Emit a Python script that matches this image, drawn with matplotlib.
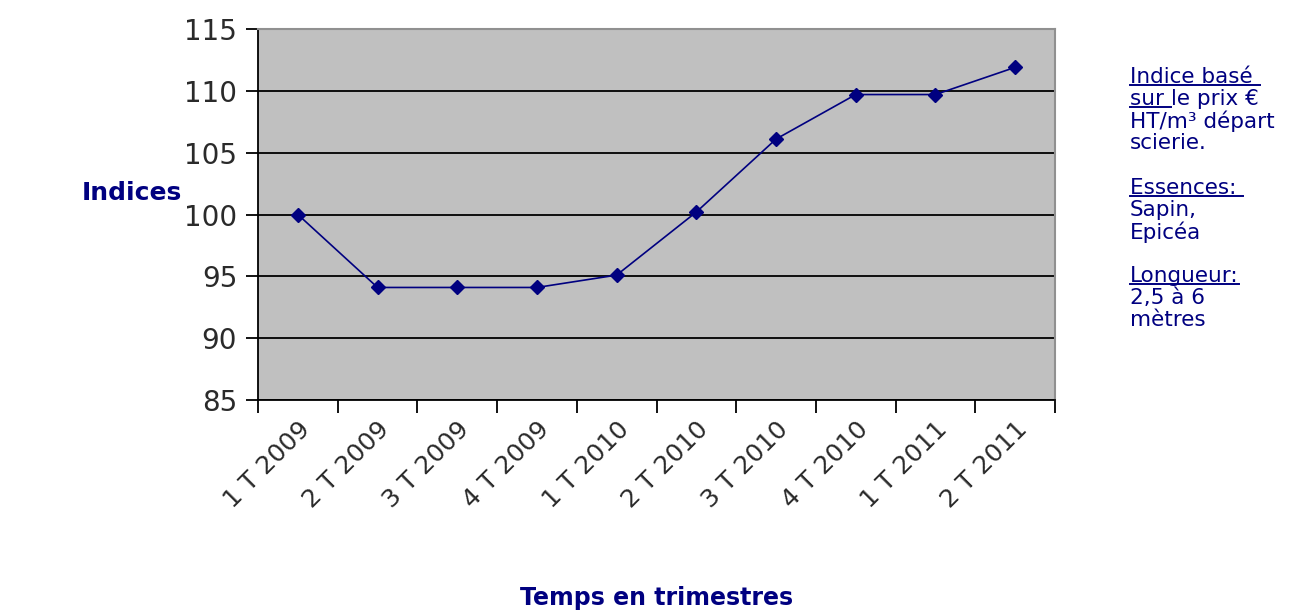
import numpy as np
import matplotlib
matplotlib.use("Agg")
from matplotlib import pyplot as plt

# Data
trimestres = ["1 T 2009", "2 T 2009", "3 T 2009", "4 T 2009", "1 T 2010",
              "2 T 2010", "3 T 2010", "4 T 2010", "1 T 2011", "2 T 2011"]
indices = [100.0, 94.1, 94.1, 94.1, 95.1, 100.2, 106.1, 109.7, 109.7, 111.9]
y_ticks = [85, 90, 95, 100, 105, 110, 115]

navy = "#000080"
plt.rcParams['font.family'] = ['DejaVu Sans']

fig = plt.figure(figsize=(13.07, 6.16), dpi=100)
ax = fig.add_axes([258 / 1307, 1 - 400 / 616, (1055 - 258) / 1307, (400 - 29) / 616])
ax.set_facecolor("#c0c0c0")

x = np.arange(len(trimestres))
ax.plot(x, indices, color=navy, lw=1.2, marker="D", ms=7, mfc=navy, mec=navy)

ax.set_xlim(-0.5, len(trimestres) - 0.5)
ax.set_ylim(85, 115)
ax.set_yticks(y_ticks)
ax.yaxis.grid(True, color="black", lw=1.3)
ax.set_axisbelow(True)

# ticks between categories, labels at category centers
ax.set_xticks(np.arange(-0.5, len(trimestres)), minor=False)
ax.set_xticklabels([])
ax.set_xticks(x, minor=True)
ax.set_xticklabels(trimestres, minor=True, rotation=45, ha="right",
                   rotation_mode="anchor", fontsize=18, color="#2a2a2a")
ax.tick_params(axis="x", which="minor", length=0, pad=12)
ax.tick_params(axis="x", which="major", length=9, width=1.3, direction="out")
ax.tick_params(axis="y", length=9, width=1.3, direction="out",
               labelsize=20, labelcolor="#2a2a2a", pad=6)

for side in ["top", "right"]:
    ax.spines[side].set_color("#909090")
    ax.spines[side].set_linewidth(1.5)
ax.spines["left"].set_linewidth(1.3)
ax.spines["bottom"].set_linewidth(1.3)

fig.text(132 / 1307, 1 - 193 / 616, "Indices", color=navy, fontsize=18,
         fontweight="bold", ha="center", va="center")
fig.text(657 / 1307, 1 - 598 / 616, "Temps en trimestres", color=navy,
         fontsize=17, fontweight="bold", ha="center", va="center")

# side note, some parts underlined
note = [
    (77, [("Indice basé ", True)]),
    (99, [("sur ", True), ("le prix €", False)]),
    (121, [("HT/m³ départ", False)]),
    (143, [("scierie.", False)]),
    (188, [("Essences: ", True)]),
    (210, [("Sapin,", False)]),
    (232, [("Epicéa", False)]),
    (276, [("Longueur:", True)]),
    (298, [("2,5 à 6", False)]),
    (320, [("mètres", False)]),
]
fig.canvas.draw()
renderer = fig.canvas.get_renderer()
for ypix, parts in note:
    xpix = 1130
    for txt, under in parts:
        t = fig.text(xpix / 1307, 1 - ypix / 616, txt, color=navy, fontsize=15.5,
                     ha="left", va="center")
        bb = t.get_window_extent(renderer)
        if under:
            yl = bb.y0 + 2
            fig.add_artist(plt.Line2D([bb.x0 / 1307, bb.x1 / 1307],
                                      [yl / 616, yl / 616], color=navy, lw=1.4))
        xpix = bb.x1

fig.savefig("out.png", dpi=100)
